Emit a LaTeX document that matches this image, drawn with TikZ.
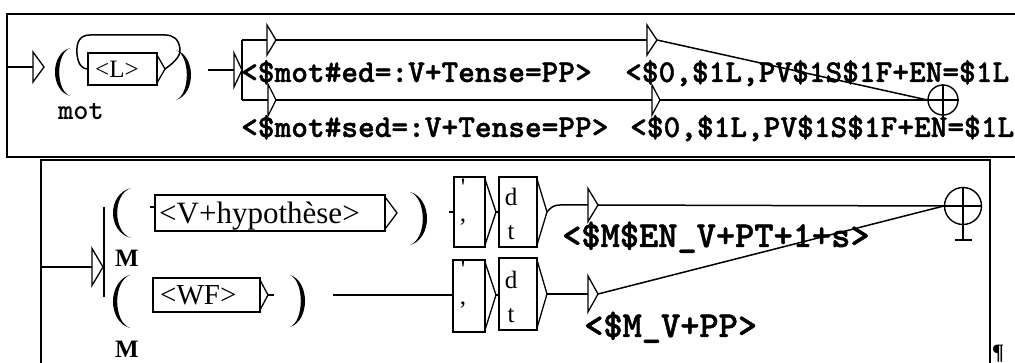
\documentclass[tikz,border=0pt]{standalone}
\usepackage{fontspec}
\setmainfont{Liberation Serif}
\newfontfamily\monob{lmmonolt10-bold.otf}[FakeBold=1.2]
\newcommand\trig[5]{%
  \draw[trishape] (#1,{#2-#4/2}) -- ({#1+#3},#2) -- (#1,{#2+#4/2}) -- cycle;
  \coordinate (#5-in) at (#1,#2);
  \coordinate (#5-out) at ({#1+#3},#2);}
% left paren: xtip ytop ybot xleft
\newcommand\parL[4]{%
  \fill (#1,#2) .. controls ({(4*#4-#1)/3},{#2+0.12*(#3-#2)}) and ({(4*#4-#1)/3},{#3-0.12*(#3-#2)}) .. (#1,#3)
        .. controls ({(4*(#4+4.2)-#1)/3},{#3-0.12*(#3-#2)}) and ({(4*(#4+4.2)-#1)/3},{#2+0.12*(#3-#2)}) .. cycle;}
% right paren: xtip ytop ybot xright
\newcommand\parR[4]{%
  \fill (#1,#2) .. controls ({(4*#4-#1)/3},{#2+0.12*(#3-#2)}) and ({(4*#4-#1)/3},{#3-0.12*(#3-#2)}) .. (#1,#3)
        .. controls ({(4*(#4-4.2)-#1)/3},{#3-0.12*(#3-#2)}) and ({(4*(#4-4.2)-#1)/3},{#2+0.12*(#3-#2)}) .. cycle;}
\begin{document}
\begin{tikzpicture}[x=1pt,y=-1pt,
  frameline/.style={line width=2.3pt},
  conn/.style={line width=1.5pt},
  trishape/.style={line width=1.3pt, line join=miter},
  gbox/.style={draw, line width=1.4pt, inner sep=0pt},
  montop/.style={anchor=base west, inner sep=0pt, font=\fontsize{31.8}{34}\monob},
  monbot/.style={anchor=base west, inner sep=0pt, font=\fontsize{36.6}{40}\monob},
  serlab/.style={inner sep=0pt, font=\fontsize{25}{27}\selectfont},
  mlab/.style={inner sep=0pt, font=\fontsize{25}{27}\selectfont\bfseries},
  plus/.style={draw, circle, line width=1.4pt, inner sep=0pt}]
\useasboundingbox (0,0) rectangle (1015,363);

% ---------- frames ----------
\draw[frameline] (1015,14) -- (7,14) -- (7,157) -- (1015,157);
\draw[frameline] (41,363) -- (41,160) -- (990,160) -- (990,363);

% ---------- top panel ----------
\coordinate (f0) at (7,67);
\trig{33}{67}{11}{30}{t0}
\draw[conn] (f0) -- (t0-in);

\parL{70}{48}{96}{55}
\parR{176}{50}{100}{191}

\node[gbox, minimum width=69pt, minimum height=32pt] (Lb) at (122.5,69) {};
\node[anchor=base west, inner sep=0pt, font=\fontsize{25}{27}\selectfont] (Lt) at (95,78) {<L>};
\draw[trishape] (157,55) -- (165,69) -- (157,83);
\coordinate (Lout) at (165,69);
\draw[conn] (Lout) .. controls (172,64) and (181,57) .. (180,49)
   .. controls (179,39) and (173,35) .. (165,35) -- (90,35)
   .. controls (80,35) and (76,42) .. (77,54)
   .. controls (78,64) and (82,69) .. (Lb.west);
\node[anchor=base west, inner sep=0pt, font=\fontsize{29}{31}\ttfamily\bfseries] (mot) at (58,120) {mot};

\coordinate (m0) at (208,70);
\trig{234}{70}{8}{34}{t1}
\draw[conn] (m0) -- (t1-in);
\coordinate (b1) at (242,40);
\coordinate (b2) at (242,100);
\draw[conn] (b1) -- (b2);
\trig{267}{40}{9}{30}{t2}
\trig{268}{100}{8}{32}{t3}
\draw[conn] (b1) -- (t2-in);
\draw[conn] (b2) -- (t3-in);
\trig{647}{40}{10}{30}{t4}
\trig{652}{100}{8}{30}{t5}
\draw[conn] (t2-out) -- (t4-in);
\draw[conn] (t3-out) -- (t5-in);

\node[plus, minimum size=30pt] (fin1) at (943,100) {};
\draw[conn] (fin1.north) -- (943,137);
\draw[conn] (fin1.west) -- (fin1.east);
\draw[conn] (t4-out) -- (fin1.west);
\draw[conn] (t5-out) -- (fin1.west);

\node[montop] (e1) at (241,82) {<\$mot\#ed=:V+Tense=PP>};
\node[montop] (e2) at (241,137) {<\$mot\#sed=:V+Tense=PP>};
\node[montop] (o1) at (625,82) {<\$0,\$1L,PV\$1S\$1F+EN=\$1L};
\node[montop] (o2) at (630,137) {<\$0,\$1L,PV\$1S\$1F+EN=\$1L};

% ---------- bottom panel ----------
\coordinate (f1) at (41,267);
\trig{92}{267}{11}{37}{t6}
\draw[conn] (f1) -- (t6-in);
\draw[line width=2pt] (104,207) -- (104,297);

\parL{131}{188}{238}{113}
\parL{130}{275}{328}{113}
\parR{410}{192}{245}{427}
\parR{290}{275}{327}{305}
\node[mlab] (M1) at (127,258) {M};
\node[mlab] (M2) at (127,349) {M};

\node[gbox, minimum width=230pt, minimum height=36pt] (hb) at (270,213) {};
\node[anchor=base west, inner sep=0pt, font=\fontsize{31}{34}\selectfont] (ht) at (159,224) {<V+hypothèse>};
\draw[trishape] (385,197) -- (397,213) -- (385,229);
\draw[conn] (150,207) -- (hb.west |- 0,207);

\node[gbox, minimum width=107pt, minimum height=34pt] (wb) at (206.5,295) {};
\node[anchor=base west, inner sep=0pt, font=\fontsize{29}{31}\selectfont] (wt) at (160,305) {<WF>};
\draw[trishape] (260,280) -- (268,295) -- (260,310);
\coordinate (wout) at (268,295);
\draw[conn] (wout) -- (274,295);

% quote / dt boxes, upper
\node[gbox, minimum width=31pt, minimum height=70pt] (pc1) at (469.5,212) {};
\draw[trishape] (485,179) -- (496,212) -- (485,245);
\coordinate (pc1-out) at (496,212);
\node[gbox, minimum width=38pt, minimum height=70pt] (dt1) at (518,212) {};
\draw[trishape] (537,179) -- (547,212) -- (537,245);
\coordinate (dt1-out) at (547,212);
\draw[conn] (449,212) -- (pc1.west);
\draw[conn] (pc1-out) -- (dt1.west);
\node[serlab] at (463,187) {\textquotesingle};
\node[serlab] at (463,222) {,};
\node[serlab] at (511,197) {d};
\node[serlab] at (511,233) {t};
\trig{588}{205}{10}{33}{t7}
\draw[conn] (dt1-out) .. controls (551,207) and (554,205) .. (560,205) -- (t7-in);

% quote / dt boxes, lower
\node[gbox, minimum width=32pt, minimum height=72pt] (pc2) at (469,296) {};
\draw[trishape] (485,262) -- (496,295) -- (485,330);
\coordinate (pc2-out) at (496,295);
\node[gbox, minimum width=38pt, minimum height=72pt] (dt2) at (518,294) {};
\draw[trishape] (537,260) -- (547,294) -- (537,328);
\coordinate (dt2-out) at (547,294);
\coordinate (wl) at (333,295);
\draw[conn] (wl) -- (pc2.west |- 0,295);
\draw[conn] (pc2-out) -- (dt2.west |- 0,295);
\node[serlab] at (463,269) {\textquotesingle};
\node[serlab] at (463,305) {,};
\node[serlab] at (511,280) {d};
\node[serlab] at (511,316) {t};
\trig{588}{294}{10}{36}{t8}
\draw[conn] (dt2-out) -- (t8-in);

\node[plus, minimum size=37pt] (fin2) at (963,206) {};
\draw[conn] (fin2.north) -- (963,240);
\draw[conn] (fin2.west) -- (fin2.east);
\draw[conn] (955,240) -- (972,240);
\draw[conn] (t7-out) -- (fin2.west);
\draw[conn] (t8-out) -- (fin2.west);

\node[monbot] (s1) at (562,247) {<\$M\$EN\_V+PT+1+s>};
\node[monbot] (s2) at (584,337) {<\$M\_V+PP>};

\node[inner sep=0pt, font=\fontsize{22}{24}\selectfont\bfseries] (pil) at (998,354) {¶};
\end{tikzpicture}
\end{document}
